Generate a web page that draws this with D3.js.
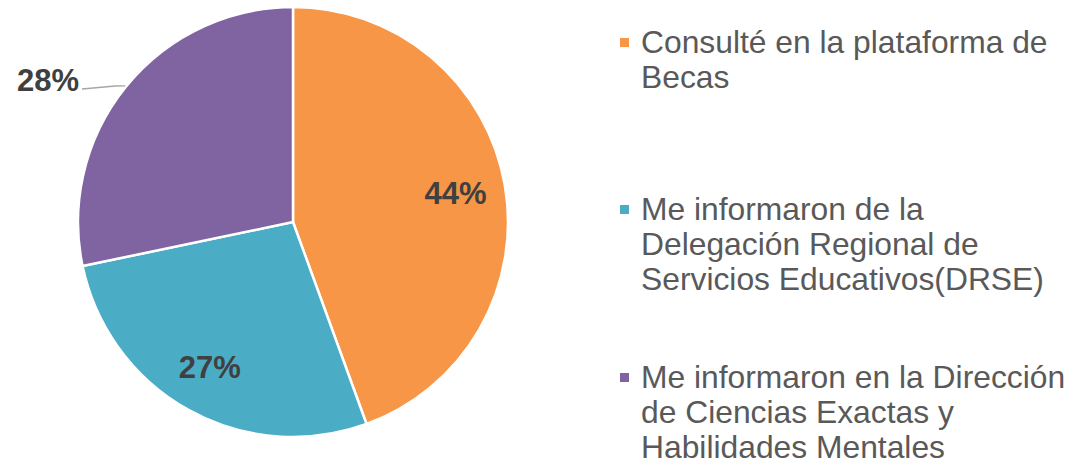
<!DOCTYPE html>
<html>
<head>
<meta charset="utf-8">
<script src="https://cdn.jsdelivr.net/npm/d3@7"></script>
<style>
  body { margin: 0; background: #fff; }
  text { font-family: "Liberation Sans", Arial, sans-serif; }
</style>
</head>
<body>
<div id="chart"></div>
<script>
// data
const categories = [
  'Consulté en la plataforma de Becas',
  'Me informaron de la Delegación Regional de Servicios Educativos(DRSE)',
  'Me informaron en la Dirección de Ciencias Exactas y Habilidades Mentales'
];
const legendLines = [
  ['Consulté en la plataforma de', 'Becas'],
  ['Me informaron de la', 'Delegación Regional de', 'Servicios Educativos(DRSE)'],
  ['Me informaron en la Dirección', 'de Ciencias Exactas y', 'Habilidades Mentales']
];
const percents = [44, 27, 28];
const colors = ['#F79646', '#4BACC6', '#8064A2'];

const width = 1077, height = 466;
const cx = 293, cy = 222, radius = 215;

const svg = d3.select('#chart').append('svg')
  .attr('width', width)
  .attr('height', height);

const pieArea = svg.append('g')
  .attr('transform', `translate(${cx},${cy})`);

const pie = d3.pie().sort(null).value((d) => d);
const arcs = pie(percents);

const arc = d3.arc().innerRadius(0).outerRadius(radius);
const labelArc = d3.arc().innerRadius(167).outerRadius(167);

/* slices */
pieArea.selectAll('.slice')
  .data(arcs)
  .join('path')
  .attr('class', 'slice')
  .attr('d', arc)
  .attr('fill', (d, i) => colors[i])
  .attr('stroke', '#fff')
  .attr('stroke-width', 2.5);

/* inside labels for first two, outside with leader for third */
arcs.forEach((d, i) => {
  if (i < 2) {
    const [x, y] = labelArc.centroid(d);
    pieArea.append('text')
      .attr('x', x - 2)
      .attr('y', y)
      .attr('text-anchor', 'middle')
      .attr('dominant-baseline', 'central')
      .attr('font-size', 31)
      .attr('font-weight', 'bold')
      .attr('fill', '#404040')
      .text(percents[i] + '%');
  } else {
    const mid = (d.startAngle + d.endAngle) / 2;
    const ex = Math.sin(mid) * (radius + 1);
    const ey = -Math.cos(mid) * (radius + 1);
    const lx = 82 - cx, ly = 89 - cy;
    pieArea.append('path')
      .attr('d', `M${ex},${ey}L${ex - 10},${ly - 3}L${lx},${ly}`)
      .attr('fill', 'none')
      .attr('stroke', '#a6a6a6')
      .attr('stroke-width', 1.3);
    pieArea.append('text')
      .attr('x', lx - 3)
      .attr('y', ly + 2)
      .attr('text-anchor', 'end')
      .attr('font-size', 31)
      .attr('font-weight', 'bold')
      .attr('fill', '#404040')
      .text(percents[i] + '%');
  }
});

/* legend */
const legendTops = [53, 220, 388];
const lineH = 35;
const legend = svg.append('g');
legendLines.forEach((lines, i) => {
  const g = legend.append('g').attr('class', 'legend-item');
  g.append('rect')
    .attr('x', 620)
    .attr('y', legendTops[i] - 15)
    .attr('width', 9)
    .attr('height', 9)
    .attr('fill', colors[i]);
  g.append('text')
    .attr('fill', '#595959')
    .attr('font-size', 31.8)
    .selectAll('tspan')
    .data(lines)
    .join('tspan')
    .attr('x', 641)
    .attr('y', (t, j) => legendTops[i] + j * lineH)
    .text((t) => t);
});
</script>
</body>
</html>
